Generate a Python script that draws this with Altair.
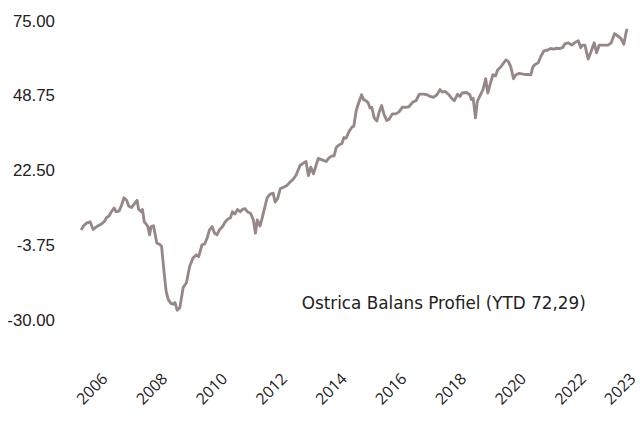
import altair as alt
import pandas as pd

series_name = "Ostrica Balans Profiel (YTD 72,29)"

years = [
    2005.40, 2005.48, 2005.59, 2005.70, 2005.80, 2005.92, 2006.06, 2006.17, 2006.25, 2006.33,
    2006.41, 2006.50, 2006.57, 2006.67, 2006.75, 2006.83, 2006.92, 2006.99, 2007.08, 2007.16,
    2007.27, 2007.32, 2007.41, 2007.45, 2007.51, 2007.58, 2007.63, 2007.69, 2007.74, 2007.82,
    2007.93, 2008.02, 2008.09, 2008.17, 2008.24, 2008.31, 2008.40, 2008.48, 2008.54, 2008.61,
    2008.70, 2008.81, 2008.92, 2009.03, 2009.14, 2009.25, 2009.33, 2009.44, 2009.53, 2009.61,
    2009.69, 2009.78, 2009.86, 2009.94, 2010.02, 2010.13, 2010.22, 2010.30, 2010.39, 2010.46,
    2010.54, 2010.63, 2010.72, 2010.79, 2010.88, 2010.96, 2011.07, 2011.16, 2011.23, 2011.29,
    2011.38, 2011.45, 2011.53, 2011.62, 2011.71, 2011.82, 2011.89, 2011.97, 2012.06, 2012.17,
    2012.28, 2012.39, 2012.50, 2012.59, 2012.72, 2012.87, 2012.92, 2013.00, 2013.08, 2013.17,
    2013.33, 2013.46, 2013.60, 2013.68, 2013.79, 2013.86, 2013.93, 2014.02, 2014.12, 2014.19,
    2014.26, 2014.37, 2014.46, 2014.52, 2014.60, 2014.68, 2014.78, 2014.85, 2014.93, 2015.00,
    2015.06, 2015.12, 2015.20, 2015.29, 2015.37, 2015.45, 2015.53, 2015.62, 2015.70, 2015.81,
    2015.92, 2016.03, 2016.14, 2016.25, 2016.36, 2016.49, 2016.60, 2016.71, 2016.85, 2016.97,
    2017.07, 2017.18, 2017.30, 2017.40, 2017.48, 2017.57, 2017.68, 2017.79, 2017.88, 2017.99,
    2018.07, 2018.14, 2018.29, 2018.40, 2018.45, 2018.51, 2018.59, 2018.65, 2018.73, 2018.84,
    2018.93, 2019.00, 2019.09, 2019.17, 2019.26, 2019.33, 2019.44, 2019.52, 2019.61, 2019.69,
    2019.77, 2019.86, 2019.94, 2020.05, 2020.19, 2020.44, 2020.51, 2020.58, 2020.69, 2020.77,
    2020.88, 2020.99, 2021.10, 2021.21, 2021.28, 2021.40, 2021.50, 2021.59, 2021.70, 2021.81,
    2021.90, 2022.03, 2022.11, 2022.17, 2022.25, 2022.36, 2022.45, 2022.56, 2022.64, 2022.73,
    2022.86, 2023.02, 2023.13, 2023.24, 2023.36, 2023.46, 2023.55, 2023.63, 2023.66,
]

values = [
    1.8, 3.3, 4.3, 4.7, 2.0, 3.0, 3.8, 4.7, 6.2, 6.7,
    8.2, 9.5, 8.2, 8.5, 10.5, 13.1, 12.2, 10.2, 9.7, 10.7,
    12.2, 9.1, 8.2, 9.0, 4.7, 3.8, 3.0, 0.1, 3.0, 3.3,
    -2.8, -3.2, -4.0, -12.7, -19.6, -22.5, -23.9, -24.2, -23.6, -26.3,
    -25.4, -18.4, -16.7, -10.9, -8.0, -6.9, -7.5, -3.4, -3.1, -1.1,
    1.8, 3.0, 0.7, 0.1, 1.8, 3.0, 4.7, 5.6, 6.1, 8.2,
    7.4, 9.0, 8.2, 9.0, 9.3, 8.2, 7.6, 5.3, 0.7, 5.3,
    3.2, 5.9, 9.3, 13.1, 14.3, 14.7, 11.6, 12.8, 16.3, 16.8,
    17.4, 18.6, 19.7, 21.1, 24.4, 25.5, 25.8, 20.9, 23.8, 21.5,
    26.9, 26.4, 25.8, 27.0, 27.8, 27.8, 30.7, 31.6, 32.1, 34.2,
    34.0, 36.5, 37.9, 38.2, 43.7, 46.3, 49.2, 47.5, 47.1, 46.3,
    44.6, 44.8, 41.1, 40.0, 43.2, 45.4, 42.3, 40.2, 40.6, 42.5,
    42.5, 43.2, 44.8, 44.8, 45.0, 46.6, 47.1, 49.4, 49.4, 49.2,
    48.6, 48.3, 49.2, 51.0, 50.1, 50.4, 49.4, 48.0, 47.1, 49.4,
    48.6, 49.8, 50.0, 49.2, 47.5, 48.0, 41.1, 46.9, 48.6, 51.0,
    54.8, 49.8, 53.3, 56.2, 55.8, 57.9, 59.0, 60.2, 61.4, 60.8,
    59.0, 54.8, 56.2, 56.7, 56.4, 56.2, 59.0, 59.8, 60.4, 62.5,
    64.6, 64.8, 65.4, 65.2, 65.5, 65.4, 65.7, 67.1, 67.4, 66.6,
    67.4, 68.1, 65.7, 66.6, 66.6, 61.7, 64.2, 67.4, 63.9, 66.6,
    66.6, 66.6, 67.4, 70.6, 69.7, 68.9, 66.9, 71.2, 72.29,
]

x_tick_values = [2006, 2008, 2010, 2012, 2014, 2016, 2018, 2020, 2022, 2023.66]
y_tick_values = [-30.0, -3.75, 22.5, 48.75, 75.0]

df = pd.DataFrame({"t": years, "v": values, "s": series_name})

chart = alt.Chart(df).mark_line(strokeWidth=2.9, strokeJoin="round").encode(
    x=alt.X(
        "t:Q",
        scale=alt.Scale(domain=[years[0], years[-1]], nice=False, zero=False),
        axis=alt.Axis(
            values=x_tick_values,
            labelExpr="floor(datum.value)",
            labelAngle=-45,
            labelAlign="right",
            labelBaseline="top",
            ticks=False,
            tickSize=0,
            domain=False,
            grid=False,
            labelPadding=50,
            labelFont="Open Sans",
            labelFontSize=16,
            labelColor="#222222",
            labelOverlap=False,
            labelFlush=False,
            title=None,
        ),
    ),
    y=alt.Y(
        "v:Q",
        scale=alt.Scale(domain=[-30, 75], nice=False, zero=False),
        axis=alt.Axis(
            values=y_tick_values,
            labelExpr="(datum.value < 0 ? '-' : '') + format(abs(datum.value), '.2f')",
            ticks=False,
            tickSize=0,
            domain=False,
            grid=False,
            labelPadding=27,
            labelFont="Liberation Sans",
            labelFontSize=17,
            labelColor="#222222",
            labelOverlap=False,
            labelFlush=False,
            title=None,
        ),
    ),
    color=alt.Color(
        "s:N",
        scale=alt.Scale(range=["#978888"]),
        legend=alt.Legend(
            orient="none",
            legendX=206,
            legendY=278,
            title=None,
            symbolSize=0,
            symbolOpacity=0,
            symbolStrokeWidth=0,
            labelOffset=0,
            labelFont="DejaVu Sans",
            labelFontSize=17,
            labelColor="#222222",
            labelLimit=500,
            padding=0,
        ),
    ),
).properties(
    width=552,
    height=303,
    padding={"left": 74, "top": 11, "right": 8, "bottom": 91},
    autosize="none",
).configure_view(stroke=None)

chart.save("out.html", embed_options={"renderer": "svg", "actions": False})
